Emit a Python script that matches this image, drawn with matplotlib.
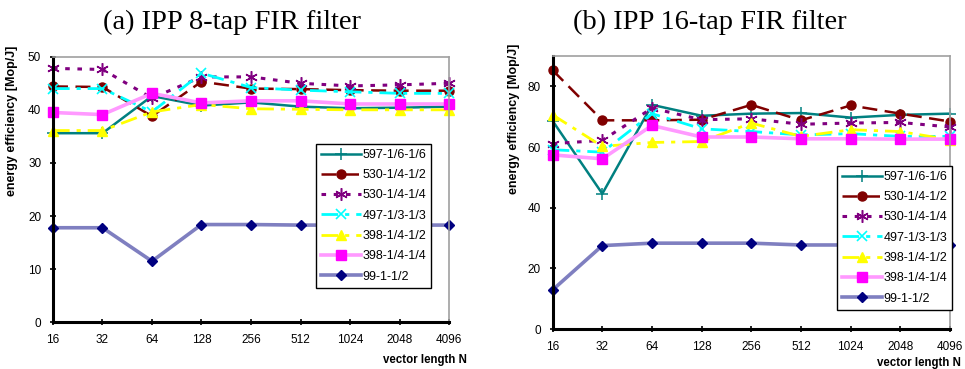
import matplotlib
matplotlib.use("Agg")
import matplotlib.pyplot as plt

lengths = ["16", "32", "64", "128", "256", "512", "1024", "2048", "4096"]
names = ["597-1/6-1/6", "530-1/4-1/2", "530-1/4-1/4", "497-1/3-1/3",
         "398-1/4-1/2", "398-1/4-1/4", "99-1-1/2"]

# (a) IPP 8-tap FIR filter
fir8_597 = [35.6, 35.6, 42.6, 40.8, 41.4, 40.6, 40.3, 40.4, 40.6]
fir8_530a = [44.4, 44.3, 38.8, 45.3, 44.0, 43.9, 43.7, 43.6, 43.6]
fir8_530b = [47.8, 47.6, 42.2, 46.2, 46.2, 45.0, 44.5, 44.7, 45.0]
fir8_497 = [44.0, 44.0, 39.6, 46.9, 44.2, 43.7, 43.4, 43.1, 43.1]
fir8_398a = [36.1, 36.1, 39.6, 41.0, 40.2, 40.1, 40.0, 40.0, 40.0]
fir8_398b = [39.5, 39.1, 43.1, 41.3, 41.7, 41.7, 41.1, 41.1, 41.1]
fir8_99 = [17.8, 17.8, 11.5, 18.4, 18.4, 18.3, 18.3, 18.3, 18.3]

# (b) IPP 16-tap FIR filter
fir16_597 = [68.6, 44.6, 73.9, 70.3, 71.0, 71.2, 69.7, 70.6, 71.0]
fir16_530a = [85.3, 68.8, 68.8, 69.0, 73.9, 68.8, 73.7, 71.0, 68.4]
fir16_530b = [61.1, 62.2, 72.8, 69.0, 69.3, 67.5, 67.9, 68.1, 66.6]
fir16_497 = [59.1, 58.3, 71.0, 66.0, 65.1, 64.0, 64.4, 63.5, 63.5]
fir16_398a = [70.6, 60.2, 61.5, 61.8, 67.9, 63.5, 65.7, 65.1, 62.4]
fir16_398b = [57.4, 56.1, 67.1, 63.3, 63.3, 62.7, 62.7, 62.6, 62.6]
fir16_99 = [12.9, 27.5, 28.3, 28.3, 28.3, 27.7, 27.7, 27.7, 27.7]

styles = [
    dict(color="#008080", ls="-", lw=1.8, marker="+", ms=8, mew=1.1, mfc="#008080", mec="#008080"),
    dict(color="#800000", ls=(0, (6, 3)), lw=1.8, marker="o", ms=6.5, mfc="#800000", mec="#800000"),
    dict(color="#800080", ls=(0, (1.5, 2.5)), lw=2.2, marker=(6, 2, 0), ms=9, mew=1.1, mfc="#800080", mec="#800080"),
    dict(color="#00ffff", ls=(0, (6, 2.5, 1.5, 2.5)), lw=2.0, marker="x", ms=7, mew=1.2, mfc="#00ffff", mec="#00ffff"),
    dict(color="#ffff00", ls=(0, (6, 2.5, 1.5, 2.5)), lw=2.0, marker="^", ms=7, mfc="#ffff00", mec="#ffff00"),
    dict(color="#ff99ff", ls="-", lw=2.6, marker="s", ms=7, mfc="#ff00ff", mec="#ff00ff"),
    dict(color="#7f7fc0", ls="-", lw=2.6, marker="D", ms=5.5, mfc="#000080", mec="#000080"),
]

plt.rcParams["font.family"] = ["Liberation Sans", "DejaVu Sans"]

fig = plt.figure(figsize=(9.65, 3.69), dpi=100)
ax1 = fig.add_axes([0.0549, 0.1266, 0.4104, 0.7197])
ax2 = fig.add_axes([0.5727, 0.1084, 0.4117, 0.7398])

panels = [
    (ax1, [fir8_597, fir8_530a, fir8_530b, fir8_497, fir8_398a, fir8_398b, fir8_99],
     50, [0, 10, 20, 30, 40, 50], "(a) IPP 8-tap FIR filter",
     (316 / 965, 1 - 144 / 369), (-0.088, 0.758), (467 / 965, 1 - 360 / 369), 232 / 965),
    (ax2, [fir16_597, fir16_530a, fir16_530b, fir16_497, fir16_398a, fir16_398b, fir16_99],
     90, [0, 20, 40, 60, 80], "(b) IPP 16-tap FIR filter",
     (837 / 965, 1 - 166 / 369), (-0.082, 0.771), (961 / 965, 1 - 363 / 369), 710 / 965),
]

x = list(range(len(lengths)))
for ax, series, ymax, yt, title, legpos, ylpos, xlpos, tx in panels:
    for name, vals, st in zip(names, series, styles):
        ax.plot(x, vals, label=name, clip_on=False, **st)
    ax.set_xlim(0, len(lengths) - 1)
    ax.set_ylim(0, ymax)
    ax.set_xticks(x)
    ax.set_xticklabels(lengths, fontsize=8.5)
    ax.set_yticks(yt)
    ax.set_yticklabels([str(v) for v in yt], fontsize=8.5)
    ax.tick_params(axis="both", direction="inout", length=5, width=1.2, pad=6)
    for s in ["left", "bottom"]:
        ax.spines[s].set_linewidth(2.2)
        ax.spines[s].set_color("black")
    for s in ["top", "right"]:
        ax.spines[s].set_linewidth(1.2)
        ax.spines[s].set_color("#a0a0a0")
    ax.set_ylabel("energy efficiency [Mop/J]", fontsize=9, fontweight="bold")
    ax.yaxis.set_label_coords(*ylpos)
    fig.text(xlpos[0], xlpos[1], "vector length N", ha="right", va="center",
             fontsize=8.3, fontweight="bold")
    fig.text(tx, 0.938, title, ha="center", va="center", fontsize=20.5,
             family=["Liberation Serif", "DejaVu Serif"])
    leg = ax.legend(loc="upper left", bbox_to_anchor=legpos, bbox_transform=fig.transFigure,
                    fontsize=9, frameon=True, fancybox=False, edgecolor="black", framealpha=1,
                    handlelength=3.2, labelspacing=0.66, borderpad=0.4,
                    handletextpad=0.1, borderaxespad=0)
    leg.get_frame().set_linewidth(1.0)
    leg.set_zorder(10)

fig.savefig("out.png", dpi=100)
